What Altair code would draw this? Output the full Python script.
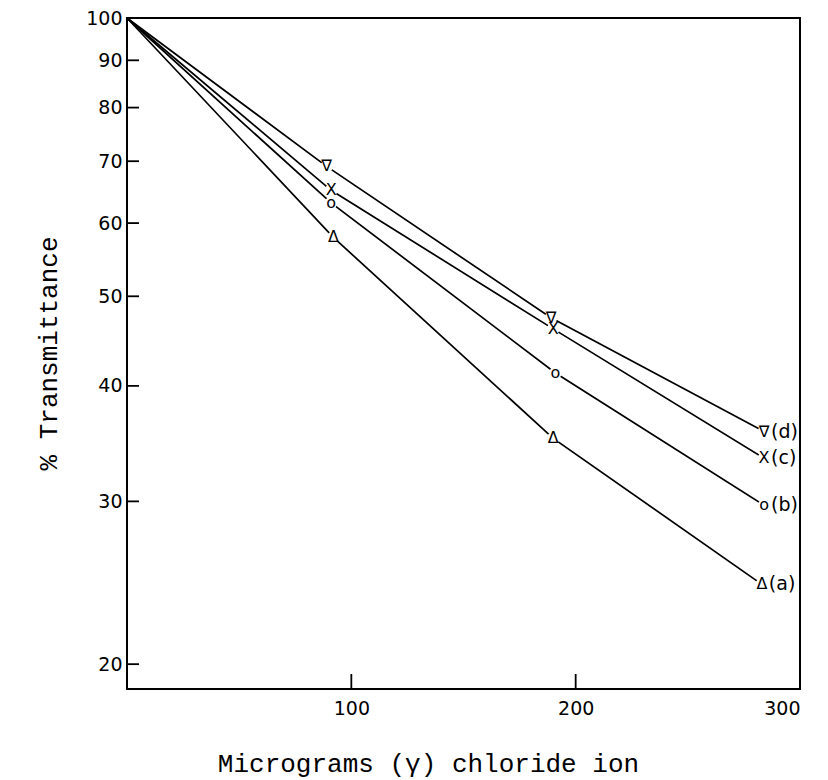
import altair as alt
import pandas as pd

# ---- data ----
series_names = ["a", "b", "c", "d"]
x_a = [0, 92, 190, 283]
y_a = [100, 57.9, 35.1, 24.4]
x_b = [0, 91, 191, 284]
y_b = [100, 63.1, 41.3, 29.7]
x_c = [0, 91, 190, 284]
y_c = [100, 65.1, 46.1, 33.4]
x_d = [0, 89, 189, 284]
y_d = [100, 69.1, 47.4, 35.7]
marker_glyphs = ["Δ", "o", "X", "∇"]
end_labels = ["(a)", "(b)", "(c)", "(d)"]

y_tick_values = [20, 30, 40, 50, 60, 70, 80, 90, 100]
y_inner_ticks = [20, 30, 40, 50, 60, 70, 80, 90]
x_tick_values = [100, 200, 300]
x_inner_ticks = [100, 200]

x_title = "Micrograms (γ) chloride ion"
y_title = "% Transmittance"

W, H = 673, 671

rows = []
for s, xs, ys, g, lab in zip(series_names, [x_a, x_b, x_c, x_d], [y_a, y_b, y_c, y_d],
                             marker_glyphs, end_labels):
    for i, (xv, yv) in enumerate(zip(xs, ys)):
        rows.append({"series": s, "x": xv, "y": yv, "order": i,
                     "glyph": g if i > 0 else "",
                     "label": lab if i == len(xs) - 1 else "",
                     "marked": i > 0})
df = pd.DataFrame(rows)
marked = df[df["marked"]]
ends = df[df["label"] != ""]

xscale = alt.Scale(domain=[0, 300], nice=False, zero=False)
yscale = alt.Scale(type="log", domain=[18.8, 100], nice=False)

X = alt.X("x:Q", scale=xscale,
          axis=alt.Axis(values=x_tick_values, title=x_title, titleX=301, titleY=82,
                        titleAlign="center", titleBaseline="alphabetic",
                        labelPadding=10, grid=False, domain=False, ticks=False))
Y = alt.Y("y:Q", scale=yscale,
          axis=alt.Axis(values=y_tick_values, title=y_title, titleX=-79, titleY=335,
                        titleAngle=270, titleAlign="center", titleBaseline="middle",
                        labelPadding=5, format="d", labelFlush=False,
                        grid=False, domain=False, ticks=False))

base = alt.Chart(df)

lines = base.mark_line(color="black", strokeWidth=1.7).encode(
    x=X, y=Y, detail="series:N", order="order:Q")

halo = alt.Chart(marked).mark_point(filled=True, color="white", opacity=1, size=160).encode(
    x=alt.X("x:Q", scale=xscale), y=alt.Y("y:Q", scale=yscale))

glyphs = alt.Chart(marked).mark_text(font="DejaVu Sans", fontSize=16, color="black",
                                     baseline="middle", align="center").encode(
    x=alt.X("x:Q", scale=xscale), y=alt.Y("y:Q", scale=yscale), text="glyph:N")

labels = alt.Chart(ends).mark_text(font="DejaVu Sans", fontSize=19, color="black",
                                   baseline="middle", align="left", dx=7).encode(
    x=alt.X("x:Q", scale=xscale), y=alt.Y("y:Q", scale=yscale), text="label:N")

ytick_df = pd.DataFrame({"y": y_inner_ticks})
yticks = alt.Chart(ytick_df).mark_rule(color="black", strokeWidth=1.8).encode(
    y=alt.Y("y:Q", scale=yscale), x=alt.value(0), x2=alt.value(12))

xtick_df = pd.DataFrame({"x": x_inner_ticks})
xticks = alt.Chart(xtick_df).mark_rule(color="black", strokeWidth=1.8).encode(
    x=alt.X("x:Q", scale=xscale), y=alt.value(H), y2=alt.value(H - 15))

chart = alt.layer(lines, halo, glyphs, labels, yticks, xticks).properties(
    width=W, height=H,
    autosize=alt.AutoSizeParams(type="none"),
    padding={"left": 119, "top": 10, "right": 20, "bottom": 90},
).configure(
    background="white"
).configure_view(
    stroke="black", strokeWidth=2
).configure_axis(
    grid=False, domain=False, ticks=False,
    labelFont="DejaVu Sans", labelFontSize=19, labelColor="black",
    titleFont="Liberation Mono", titleFontSize=26, titleFontWeight="normal",
    titleColor="black",
)

chart.save("out.html", embed_options={"renderer": "svg", "actions": False})
